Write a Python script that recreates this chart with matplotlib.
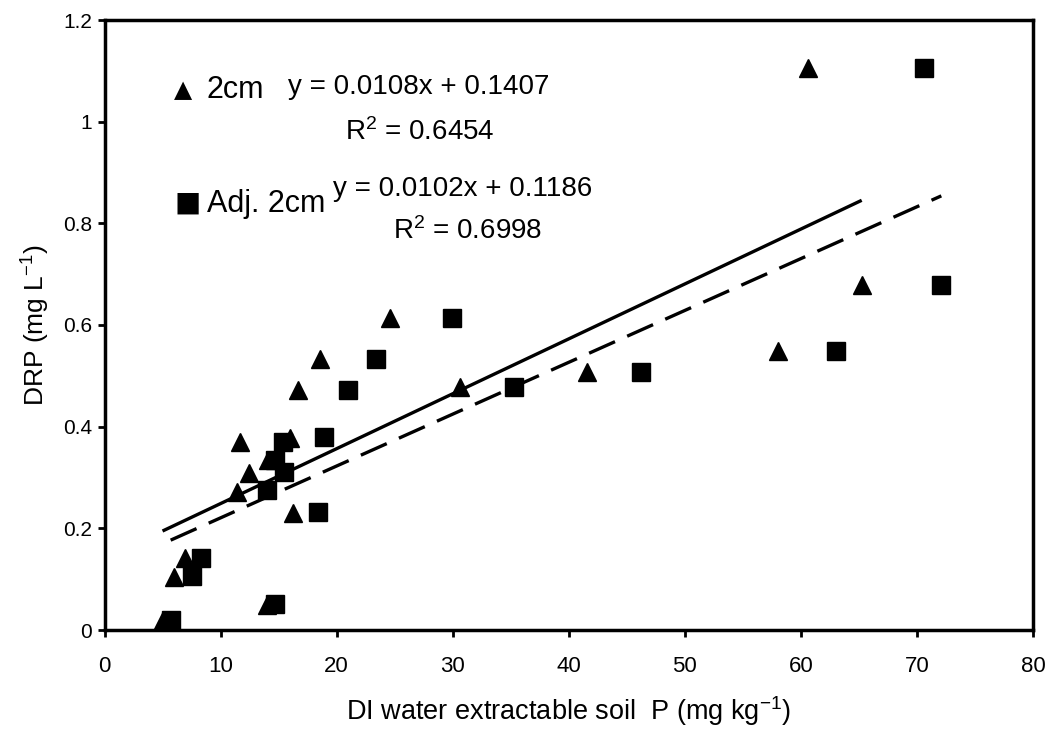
import matplotlib
matplotlib.use("Agg")
import matplotlib.pyplot as plt
import numpy as np

# Data
x_2cm = [5.0, 6.0, 6.9, 11.45, 11.67, 12.45, 14.1, 13.97, 15.98, 16.27, 16.67, 18.57, 24.6, 30.6, 41.57, 58.05, 60.6, 65.24]
y_2cm = [0.02, 0.105, 0.141, 0.272, 0.369, 0.308, 0.334, 0.049, 0.377, 0.231, 0.472, 0.534, 0.613, 0.479, 0.507, 0.548, 1.105, 0.679]

x_adj = [5.7, 7.56, 8.3, 13.97, 15.35, 15.47, 14.7, 14.7, 18.9, 18.42, 20.95, 23.4, 29.9, 35.3, 46.2, 63.0, 70.6, 72.1]
y_adj = [0.02, 0.106, 0.141, 0.275, 0.370, 0.311, 0.334, 0.051, 0.379, 0.233, 0.472, 0.534, 0.613, 0.479, 0.507, 0.548, 1.105, 0.679]

fit_2cm = (0.0108, 0.1407)
fit_adj = (0.0102, 0.1186)

x_ticks = [0, 10, 20, 30, 40, 50, 60, 70, 80]
y_ticks = [0, 0.2, 0.4, 0.6, 0.8, 1.0, 1.2]
y_tick_labels = ["0", "0.2", "0.4", "0.6", "0.8", "1", "1.2"]

plt.rcParams['font.family'] = ['Liberation Sans', 'DejaVu Sans']
plt.rcParams['mathtext.fontset'] = 'custom'
plt.rcParams['mathtext.rm'] = 'Liberation Sans'
plt.rcParams['mathtext.it'] = 'Liberation Sans'

fig = plt.figure(figsize=(10.55, 7.42), dpi=100)
ax = fig.add_axes([104.5 / 1055, 1 - 630 / 742, (1033 - 104.5) / 1055, (630 - 20) / 742])

ax.plot(x_2cm, y_2cm, linestyle='none', marker='^', ms=12.5, color='black', zorder=3)
ax.plot(x_adj, y_adj, linestyle='none', marker='s', ms=12.5, color='black', zorder=3)

xs1 = np.array([min(x_2cm), max(x_2cm)])
ax.plot(xs1, fit_2cm[0] * xs1 + fit_2cm[1], color='black', lw=2.4, solid_capstyle='butt')
xs2 = np.array([min(x_adj), max(x_adj)])
ax.plot(xs2, fit_adj[0] * xs2 + fit_adj[1], color='black', lw=2.4, dashes=(8.5, 4), dash_capstyle='butt')

ax.set_xlim(0, 80)
ax.set_ylim(0, 1.2)
ax.set_xticks(x_ticks)
ax.set_yticks(y_ticks)
ax.set_yticklabels(y_tick_labels)
for s in ax.spines.values():
    s.set_linewidth(2.5)
ax.tick_params(axis='both', direction='out', length=5, width=2)
ax.tick_params(axis='x', labelsize=16, pad=14)
ax.tick_params(axis='y', labelsize=15, pad=4)

ax.set_xlabel("DI water extractable soil  P (mg kg$^{-1}$)", fontsize=19.5, labelpad=12)
ax.set_ylabel("DRP (mg L$^{-1}$)", fontsize=19, labelpad=8)

ax.text(6.0, 1.062, "\u25B2", fontsize=17, va='center', ha='left', family=['DejaVu Sans'])
ax.text(8.8, 1.062, "2cm", fontsize=22, va='center', ha='left')
ax.text(15.8, 1.068, "y = 0.0108x + 0.1407", fontsize=20, va='center', ha='left')
ax.text(20.7, 0.980, "R$^2$ = 0.6454", fontsize=20, va='center', ha='left')

ax.text(6.0, 0.840, "\u25A0", fontsize=20, va='center', ha='left', family=['DejaVu Sans'])
ax.text(8.8, 0.838, "Adj. 2cm", fontsize=22, va='center', ha='left')
ax.text(19.7, 0.868, "y = 0.0102x + 0.1186", fontsize=20, va='center', ha='left')
ax.text(24.9, 0.785, "R$^2$ = 0.6998", fontsize=20, va='center', ha='left')

fig.savefig("out.png", dpi=100, facecolor='white')
